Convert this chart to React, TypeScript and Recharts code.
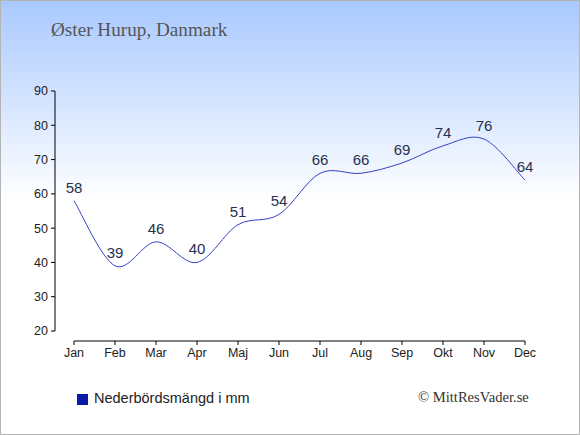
import { LineChart, Line, XAxis, YAxis, LabelList, ReferenceLine } from 'recharts';

const months = ['Jan', 'Feb', 'Mar', 'Apr', 'Maj', 'Jun', 'Jul', 'Aug', 'Sep', 'Okt', 'Nov', 'Dec'];
const precipitation = [58, 39, 46, 40, 51, 54, 66, 66, 69, 74, 76, 64];
const yTicks = [20, 30, 40, 50, 60, 70, 80, 90];
const xTicks = months.map((_, i) => i);

// axis lines sit a bit away from the plot corner, like the original
const X_MIN = -19 / 41;
const Y_MIN = 90 - 250 / (240 / 70);

const SANS = '"Liberation Sans", Arial, sans-serif';
const SERIF = '"Liberation Serif", "Times New Roman", serif';

const data = months.map((month, i) => ({ i, month, value: precipitation[i] }));

// uniform catmull-rom through every point
function catmullRom(context: any) {
  let xs: number[] = [];
  let ys: number[] = [];
  return {
    areaStart() {},
    areaEnd() {},
    lineStart() {
      xs = [];
      ys = [];
    },
    point(x: number, y: number) {
      xs.push(+x);
      ys.push(+y);
    },
    lineEnd() {
      const n = xs.length;
      if (!n) return;
      context.moveTo(xs[0], ys[0]);
      for (let k = 0; k < n - 1; k++) {
        const a = Math.max(k - 1, 0);
        const d = Math.min(k + 2, n - 1);
        context.bezierCurveTo(
          xs[k] + (xs[k + 1] - xs[a]) / 6,
          ys[k] + (ys[k + 1] - ys[a]) / 6,
          xs[k + 1] - (xs[d] - xs[k]) / 6,
          ys[k + 1] - (ys[d] - ys[k]) / 6,
          xs[k + 1],
          ys[k + 1],
        );
      }
    },
  };
}

export default function App() {
  return (
    <div
      style={{
        position: 'absolute',
        top: 0,
        left: 0,
        width: 580,
        height: 435,
        boxSizing: 'border-box',
        border: '1px solid #b4b4b4',
        background: 'linear-gradient(to bottom, #a9c9ff 0px, #ffffff 200px, #ffffff 435px)',
        overflow: 'hidden',
      }}
    >
      <div
        style={{
          position: 'absolute',
          left: 50,
          top: 18,
          fontFamily: SERIF,
          fontSize: 19.2,
          color: '#555',
          whiteSpace: 'nowrap',
        }}
      >
        Øster Hurup, Danmark
      </div>

      <div style={{ position: 'absolute', left: -1, top: -1 }}>
        <LineChart width={580} height={435} data={data} margin={{ top: 91, right: 55, bottom: 64, left: 0 }}>
          <XAxis
            type="number"
            dataKey="i"
            domain={[X_MIN, 11]}
            ticks={xTicks}
            interval={0}
            allowDataOverflow
            tickFormatter={(v: number) => months[v]}
            axisLine={false}
            stroke="#000"
            tickSize={4}
            tickMargin={3}
            height={30}
            tick={{ fill: '#222', fontSize: 12.5, fontFamily: SANS }}
          />
          <YAxis
            type="number"
            domain={[Y_MIN, 90]}
            ticks={yTicks}
            interval={0}
            allowDataOverflow
            axisLine={false}
            stroke="#000"
            tickSize={4}
            tickMargin={3}
            width={55}
            tick={{ fill: '#222', fontSize: 12.5, fontFamily: SANS }}
          />
          <ReferenceLine
            segment={[
              { x: X_MIN, y: 20 },
              { x: X_MIN, y: 90 },
            ]}
            stroke="#000"
            ifOverflow="visible"
          />
          <ReferenceLine
            segment={[
              { x: 0, y: Y_MIN },
              { x: 11, y: Y_MIN },
            ]}
            stroke="#000"
            ifOverflow="visible"
          />
          <Line
            dataKey="value"
            type={catmullRom as any}
            stroke="#3442c4"
            strokeWidth={1}
            dot={false}
            isAnimationActive={false}
          >
            <LabelList
              dataKey="value"
              position="top"
              offset={8}
              fill="#25324f"
              fontSize={15}
              fontFamily={SANS}
            />
          </Line>
        </LineChart>
      </div>

      <div style={{ position: 'absolute', left: 76, top: 393, width: 11, height: 11, background: '#0a1aaa' }} />
      <div
        style={{
          position: 'absolute',
          left: 93,
          top: 389,
          fontFamily: SANS,
          fontSize: 14.5,
          color: '#222',
          whiteSpace: 'nowrap',
        }}
      >
        Nederbördsmängd i mm
      </div>

      <div
        style={{
          position: 'absolute',
          left: 417,
          top: 388,
          fontFamily: SERIF,
          fontSize: 14.6,
          color: '#333',
          whiteSpace: 'nowrap',
        }}
      >
        © MittResVader.se
      </div>
    </div>
  );
}
